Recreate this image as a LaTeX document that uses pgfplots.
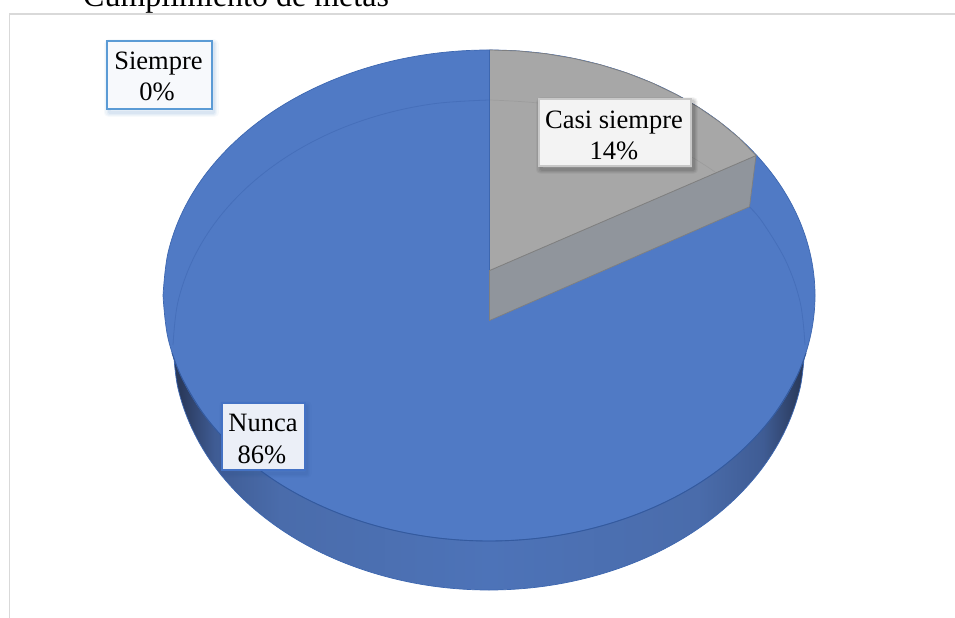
\documentclass[border=0pt]{standalone}
\usepackage{pgfplots}
\pgfplotsset{compat=1.18}
\usepackage{fontspec}
\setmainfont{Liberation Serif}
\definecolor{pieblue}{HTML}{507AC5}
\definecolor{rimblue}{HTML}{345A9E}
\definecolor{edgeblue}{HTML}{3D67B0}
\definecolor{ghostblue}{HTML}{466FBA}
\definecolor{piegray}{HTML}{A7A7A7}
\definecolor{wallgray}{HTML}{90959C}
\definecolor{edgegray}{HTML}{7F7F7F}
\definecolor{framegray}{HTML}{D9D9D9}
\definecolor{sa}{HTML}{2A3A5C}
\definecolor{sb}{HTML}{3F5C94}
\definecolor{sc}{HTML}{4A6CAB}
\definecolor{sd}{HTML}{4D73B8}
\definecolor{blueA}{HTML}{5B9BD5}
\definecolor{blueB}{HTML}{4472C4}
\definecolor{grayA}{HTML}{C8C8C8}
\definecolor{fillA}{HTML}{F7F9FC}
\definecolor{fillB}{HTML}{F3F3F3}
\definecolor{fillC}{HTML}{EBEFF7}
\definecolor{shadA}{HTML}{3F7FBF}
\definecolor{shadC}{HTML}{2F5597}
\pgfdeclarehorizontalshading{sidegrad}{100bp}{
  color(0bp)=(sa); color(25.6bp)=(sa); color(28.3bp)=(sb); color(33.5bp)=(sc);
  color(50bp)=(sd); color(66.5bp)=(sc); color(71.7bp)=(sb); color(74.6bp)=(sa);
  color(100bp)=(sa)}
\newcommand\lf{\fontsize{26.5bp}{31bp}\selectfont}
\newcommand\softbox[7]{%
  \draw[line width=10bp, draw opacity=0.04, draw=#5, line join=round, xshift=2bp, yshift=-3bp] (axis cs:#1,#2) rectangle (axis cs:#3,#4);
  \draw[line width=7.5bp, draw opacity=0.05, draw=#5, line join=round, xshift=2bp, yshift=-3bp] (axis cs:#1,#2) rectangle (axis cs:#3,#4);
  \draw[line width=5bp, draw opacity=0.06, draw=#5, line join=round, xshift=2bp, yshift=-3bp] (axis cs:#1,#2) rectangle (axis cs:#3,#4);
  \draw[line width=3bp, draw opacity=0.07, draw=#5, line join=round, xshift=2bp, yshift=-3bp] (axis cs:#1,#2) rectangle (axis cs:#3,#4);
  \draw[line width=2bp, draw=#6, fill=#7] (axis cs:#1,#2) rectangle (axis cs:#3,#4);}
\begin{document}
\begin{tikzpicture}[x=1bp,y=1bp]
\path[use as bounding box,clip] (0,0) rectangle (955,618);
\begin{axis}[
  at={(0,0)}, anchor=south west,
  width=955bp, height=618bp, scale only axis,
  xmin=0, xmax=955, ymin=0, ymax=618, y dir=reverse,
  hide axis, clip=false]
% chart frame
\addplot[draw=framegray, line width=1.6bp] coordinates {(9.3,618) (9.3,14) (955,14)};
% side wall
\addplot[draw=none, shading=sidegrad, smooth, tension=0.6] coordinates {
 (173,345) (177.8,387.5) (192.1,428.8) (215.3,467.5) (246.9,502.5) (285.9,532.7) (331,557.2) (380.9,575.2) (434.1,586.3) (489,590)
 (543.9,586.3) (597.1,575.2) (647,557.2) (692.1,532.7) (731.1,502.5) (762.7,467.5) (785.9,428.8) (800.2,387.5) (805,345)};
\addplot[draw=edgeblue, line width=0.7bp, smooth, tension=0.6] coordinates {
 (173,345) (177.8,387.5) (192.1,428.8) (215.3,467.5) (246.9,502.5) (285.9,532.7) (331,557.2) (380.9,575.2) (434.1,586.3) (489,590)
 (543.9,586.3) (597.1,575.2) (647,557.2) (692.1,532.7) (731.1,502.5) (762.7,467.5) (785.9,428.8) (800.2,387.5) (805,345)};
% top face
\addplot[draw=edgeblue, line width=0.7bp, fill=pieblue, smooth, tension=0.6] coordinates {
 (163,295.5) (168,252.9) (182.7,211.5) (206.7,172.7) (239.3,137.7) (279.4,107.4) (326,82.9) (377.5,64.8) (432.4,53.7) (489,50)
 (545.6,53.7) (600.5,64.8) (652,82.9) (698.6,107.4) (738.7,137.7) (771.3,172.7) (795.3,211.5) (810,252.9) (815,295.5)
 (810,338.1) (795.3,379.5) (771.3,418.3) (738.7,453.3) (698.6,483.6) (652,508.1) (600.5,526.2) (545.6,537.3) (489,541)
 (432.4,537.3) (377.5,526.2) (326,508.1) (279.4,483.6) (239.3,453.3) (206.7,418.3) (182.7,379.5) (168,338.1) (163,295.5)};
% front rim line of the top face
\addplot[draw=rimblue, line width=0.9bp, smooth, tension=0.6] coordinates {
 (172,353) (182.7,379.5) (206.7,418.3) (239.3,453.3) (279.4,483.6) (326,508.1) (377.5,526.2) (432.4,537.3) (489,541)
 (545.6,537.3) (600.5,526.2) (652,508.1) (698.6,483.6) (738.7,453.3) (771.3,418.3) (795.3,379.5) (806,353)};
% faint far edge of the lower ellipse
\addplot[draw=ghostblue, line width=0.8bp, smooth, tension=0.6] coordinates {
 (173,345) (177.8,302.5) (192.1,261.2) (215.3,222.5) (246.9,187.5) (285.9,157.3) (331,132.8) (380.9,114.8) (434.1,103.7) (489,100)};
\addplot[draw=ghostblue, line width=0.8bp, smooth, tension=0.6] coordinates {
 (749.5,207) (762.7,222.5) (785.9,261.2) (800.2,302.5) (805,345)};
% grey wall
\addplot[draw=edgegray, line width=0.7bp, fill=wallgray] coordinates {
 (489.5,270.5) (489.5,320.5) (749.5,206.7) (756,155.5) (489.5,270.5)};
% grey face
\addplot[draw=edgegray, line width=0.7bp, fill=piegray] coordinates {
 (489.5,50) (517.4,50.9) (545.6,53.7) (573.4,58.4) (600.5,64.8) (626.8,73) (652,82.9) (676,94.4) (698.6,107.4) (719.5,121.9) (738.7,137.7) (756,155.5) (489.5,270.5) (489.5,50)};
% faint arc on the grey face
\addplot[draw=edgegray, draw opacity=0.25, line width=0.7bp, smooth, tension=0.6] coordinates {
 (489.5,100) (543.9,103.7) (597.1,114.8) (647,132.8) (692.1,157.3) (715,172)};
% blue cut line
\addplot[draw=edgeblue, line width=1bp] coordinates {(489,50) (489,270)};
% title, cut by the top of the page
\node[anchor=base west, font=\fontsize{32bp}{36bp}\selectfont, inner sep=0pt] at (axis cs:83,7) {Cumplimiento de metas};
% labels
\softbox{107}{41}{211.5}{109.5}{shadA}{blueA}{fillA}
\softbox{539}{99}{691}{166.5}{black}{grayA}{fillB}
\softbox{221.5}{403.5}{304.5}{470}{shadC}{blueB}{fillC}
\node[anchor=base, font=\lf, inner sep=0pt] at (axis cs:158.5,70) {Siempre};
\node[anchor=base, font=\lf, inner sep=0pt] at (axis cs:157,101) {0\%};
\node[anchor=base, font=\lf, inner sep=0pt] at (axis cs:614,128.5) {Casi siempre};
\node[anchor=base, font=\lf, inner sep=0pt] at (axis cs:614,160) {14\%};
\node[anchor=base, font=\lf, inner sep=0pt] at (axis cs:263,432) {Nunca};
\node[anchor=base, font=\lf, inner sep=0pt] at (axis cs:262,463.5) {86\%};
\end{axis}
\end{tikzpicture}
\end{document}
